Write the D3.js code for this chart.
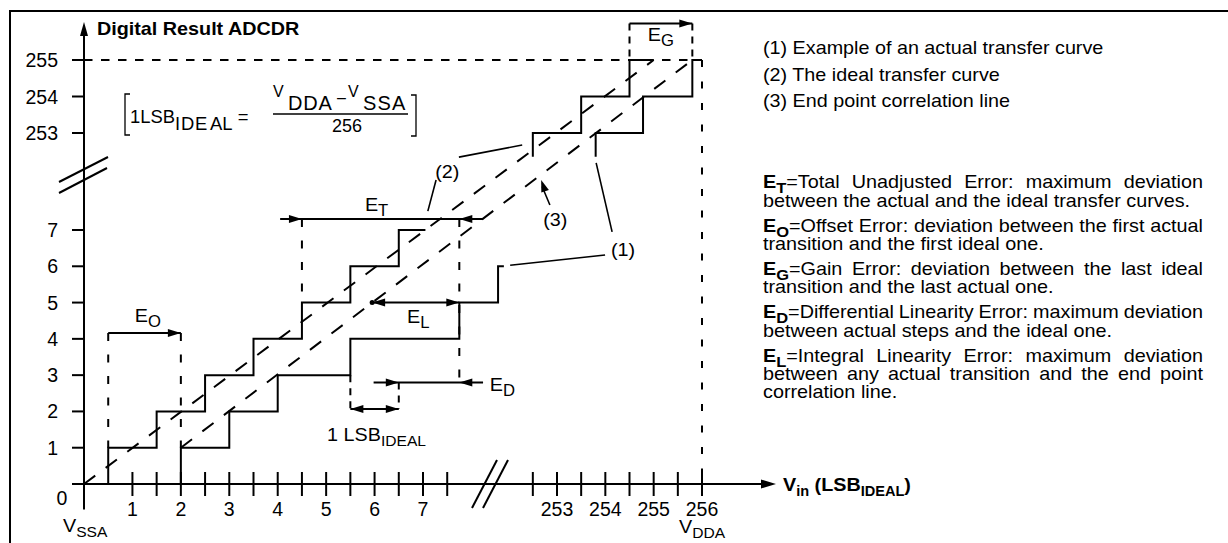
<!DOCTYPE html>
<html><head><meta charset="utf-8">
<script src="https://cdn.jsdelivr.net/npm/d3@7"></script>
<style>body{margin:0;background:#fff;} svg{display:block;} text{white-space:pre;}</style>
</head><body>
<script>
// ---------------- data ----------------
const xTickLabelsLow = [1, 2, 3, 4, 5, 6, 7];
const xTickLabelsHigh = [253, 254, 255, 256];
const xMinorLow = [1.5, 2.5, 3.5, 4.5, 5.5, 6.5, 7.5];
const xMinorHigh = [252.5, 253.5, 254.5, 255.5];
const yTickLabelsLow = [1, 2, 3, 4, 5, 6, 7];
const yTickLabelsHigh = [253, 254, 255];

// (2) ideal transfer curve, (1) actual transfer curve  [Vin (LSB), code]
const idealLow = [[0.5,0],[0.5,1],[1.5,1],[1.5,2],[2.5,2],[2.5,3],[3.5,3],[3.5,4],[4.5,4],[4.5,5],[5.5,5],[5.5,6],[6.5,6],[6.5,7],[7.05,7]];
const actualLow = [[2,0],[2,1],[3,1],[3,2],[4,2],[4,3],[5.5,3],[5.5,4],[7.75,4],[7.75,5],[8.55,5],[8.55,6],[8.67,6]];
const idealHigh = [[252.5,252.35],[252.5,253],[253.5,253],[253.5,254],[254.5,254],[254.5,255],[255,255]];
const actualHigh = [[253.8,252.35],[253.8,253],[254.78,253],[254.78,254],[255.8,254],[255.8,255],[256,255]];
// straight lines: ideal (2) from (0,0) to (255,255); end point correlation (3) from first to last actual transition
const idealLineEnds = [[0,0],[255,255]];
const endPointLineEnds = [[2,1],[255.8,255]];

// annotation values (LSB / code units)
const eO = {y: 4.16, x0: 0.5, x1: 2};
const eT = {y: 7.3, x0: 4.05, x1: 8.24, tipL: 4.5, tipR: 7.75};
const eL = {y: 5, x0: 5.95, x1: 7.75};
const eD = {y: 2.8, x0: 5.98, x1: 8.24, tipL: 6.5, tipR: 7.75};
const lsb = {y: 2.07, x0: 5.5, x1: 6.5};
const eG = {y: 256, x0: 254.5, x1: 255.8};

const legendItems = ["(1) Example of an actual transfer curve", "(2) The ideal transfer curve", "(3) End point correlation line"];
const defItems = [
  {e: "T", lines: ["=Total Unadjusted Error: maximum deviation", "between the actual and the ideal transfer curves."]},
  {e: "O", lines: ["=Offset Error: deviation between the first actual", "transition and the first ideal one."]},
  {e: "G", lines: ["=Gain Error: deviation between the last ideal", "transition and the last actual one."]},
  {e: "D", lines: ["=Differential Linearity Error: maximum deviation", "between actual steps and the ideal one."]},
  {e: "L", lines: ["=Integral Linearity Error: maximum deviation", "between any actual transition and the end point", "correlation line."]}
];

// ---------------- setup ----------------
const W = 1228, H = 543;
const FONT = "'Liberation Sans', Arial, Helvetica, sans-serif";
const FS = 19, SX = 1.04;
const svg = d3.select("body").append("svg").attr("width", W).attr("height", H);

const xLo = d3.scaleLinear().domain([0, 7]).range([84, 423]);
const xHi = d3.scaleLinear().domain([253, 256]).range([557, 702]);
const yLo = d3.scaleLinear().domain([0, 7]).range([484, 230]);
const yHi = d3.scaleLinear().domain([253, 255]).range([133, 60]);

function txt(x, y, parts, o = {}) {
  const t = svg.append("text")
    .attr("x", x).attr("y", y)
    .attr("font-family", FONT)
    .attr("font-size", o.size || FS)
    .attr("font-weight", o.weight || "normal")
    .attr("text-anchor", o.anchor || "start")
    .attr("fill", "#000");
  if (typeof parts === "string") parts = [{t: parts}];
  let cur = 0;
  parts.forEach(p => {
    const ts = t.append("tspan").text(p.t);
    if (p.x !== undefined) { ts.attr("x", p.x).attr("y", y + (p.dy || 0)); cur = p.dy || 0; }
    else {
      const shift = p.dy || 0;
      if (shift !== cur) { ts.attr("dy", shift - cur); cur = shift; }
    }
    if (p.size) ts.attr("font-size", p.size);
    if (p.weight) ts.attr("font-weight", p.weight);
    if (p.ls) ts.attr("letter-spacing", p.ls);
    if (p.dx) ts.attr("dx", p.dx);
  });
  const sx = o.sx === undefined ? SX : o.sx;
  if (sx !== 1) t.attr("transform", `translate(${x},${y}) scale(${sx},1) translate(${-x},${-y})`);
  return t;
}
function measure(str, size, weight) {
  const t = svg.append("text").attr("font-family", FONT).attr("font-size", size)
    .attr("font-weight", weight || "normal").text(str);
  const w = t.node().getComputedTextLength();
  t.remove();
  return w;
}
function seg(x1, y1, x2, y2, o = {}) {
  return svg.append("line").attr("x1", x1).attr("y1", y1).attr("x2", x2).attr("y2", y2)
    .attr("stroke", "#000").attr("stroke-width", o.w || 2)
    .attr("stroke-dasharray", o.dash || null);
}
function head(tx, ty, ang, len = 13, hw = 4) {
  const c = Math.cos(ang), s = Math.sin(ang);
  const bx = tx - c * len, by = ty - s * len;
  const p = [[tx, ty], [bx - s * hw, by + c * hw], [bx + s * hw, by - c * hw]];
  svg.append("path").attr("d", d3.line()(p) + "Z").attr("fill", "#000");
}
const R = 0, L = Math.PI, U = -Math.PI / 2;
const step = d3.line();
function curve(pts, sx, sy) {
  svg.append("path").attr("d", step(pts.map(p => [sx(p[0]), sy(p[1])])))
    .attr("fill", "none").attr("stroke", "#000").attr("stroke-width", 2);
}

// ---------------- frame ----------------
svg.append("path").attr("d", `M${W},11H10V${H}`).attr("fill", "none").attr("stroke", "#000").attr("stroke-width", 2);

// ---------------- dashed reference lines ----------------
const VD = "8,13.5";
seg(xLo(0), yHi(255), xHi(256), yHi(255), {dash: "8.5,8.5"});
seg(xHi(256), yHi(255), xHi(256), yLo(0), {dash: "7,14.5"});
seg(xHi(eG.x0), yHi(eG.y), xHi(eG.x0), yHi(255), {dash: "7,6"});
seg(xHi(eG.x1), yHi(eG.y), xHi(eG.x1), yHi(255), {dash: "7,6"});
seg(xLo(eO.x0), yLo(eO.y), xLo(eO.x0), yLo(1), {dash: VD});
seg(xLo(eO.x1), yLo(eO.y), xLo(eO.x1), yLo(1), {dash: VD});
seg(xLo(eT.tipL), yLo(eT.y), xLo(eT.tipL), yLo(5), {dash: VD});
seg(xLo(eT.tipR), yLo(eT.y), xLo(eT.tipR), yLo(eD.y), {dash: VD});
seg(xLo(lsb.x0), yLo(3), xLo(lsb.x0), yLo(lsb.y), {dash: "7,6"});
seg(xLo(eD.tipL), yLo(eD.y), xLo(eD.tipL), yLo(lsb.y), {dash: "7,6"});

// diagonal lines (2) and (3)
seg(xLo(idealLineEnds[0][0]), yLo(idealLineEnds[0][1]), xHi(idealLineEnds[1][0]), yHi(idealLineEnds[1][1]), {dash: "14,13"});
seg(xLo(endPointLineEnds[0][0]), yLo(endPointLineEnds[0][1]), xHi(endPointLineEnds[1][0]), yHi(endPointLineEnds[1][1]), {dash: "14,13"});

// ---------------- step curves ----------------
curve(idealLow, xLo, yLo);
curve(actualLow, xLo, yLo);
curve(idealHigh, xHi, yHi);
curve(actualHigh, xHi, yHi);

// ---------------- axes ----------------
seg(xLo(0), yLo(-0.7), xLo(0), 32);
head(xLo(0), 22, U, 14, 4);
seg(72, yLo(0), 766, yLo(0));
head(776, yLo(0), R, 15, 4.5);

xMinorLow.concat(xTickLabelsLow).forEach(v => seg(xLo(v), yLo(0) - 12, xLo(v), yLo(0) + 12));
xMinorHigh.concat(xTickLabelsHigh).forEach(v => seg(xHi(v), yLo(0) - 12, xHi(v), yLo(0) + 12));
yTickLabelsLow.forEach(v => seg(72, yLo(v), xLo(0), yLo(v)));
yTickLabelsHigh.forEach(v => seg(72, yHi(v), xLo(0), yHi(v)));

xTickLabelsLow.forEach(v => txt(xLo(v), 516, String(v), {anchor: "middle", size: 19.5, sx: 1}));
xTickLabelsHigh.forEach(v => txt(xHi(v), 516, String(v), {anchor: "middle", size: 19.5, sx: 1}));
yTickLabelsLow.forEach(v => txt(58, yLo(v) + 7, String(v), {anchor: "end", size: 19.5, sx: 1}));
yTickLabelsHigh.forEach(v => txt(58, yHi(v) + 7, String(v), {anchor: "end", size: 19.5, sx: 1}));
txt(62, 505, "0", {anchor: "middle", size: 19.5, sx: 1});
txt(63, 532, [{t: "V"}, {t: "SSA", size: 15, dy: 5}], {size: 19});
txt(679, 533, [{t: "V"}, {t: "DDA", size: 15, dy: 5}], {size: 19});

// axis breaks
function brk(pairs) { pairs.forEach(p => seg(p[0], p[1], p[2], p[3])); }
brk([[472, 508, 497, 460], [483, 508, 508, 460]]);
brk([[59, 182, 108, 157], [59, 193, 107, 168]]);

// axis titles
txt(97, 35, "Digital Result ADCDR", {weight: "bold", size: 19});
txt(783, 491, [{t: "V"}, {t: "in", size: 14, dy: 5}, {t: " (LSB", dy: 0}, {t: "IDEAL", size: 14, dy: 5}, {t: ")", dy: 0}], {weight: "bold", size: 19});

// ---------------- formula ----------------
svg.append("path").attr("d", "M130,94H125V135H130").attr("fill", "none").attr("stroke", "#000").attr("stroke-width", 1.3);
svg.append("path").attr("d", "M411,95H416V136H411").attr("fill", "none").attr("stroke", "#000").attr("stroke-width", 1.3);
txt(130, 123, [{t: "1LSB"}, {t: "IDE", dy: 7, ls: 0.8}, {t: "AL", dy: 7, dx: 2}, {t: " =", dy: 0}], {size: 19, sx: 0.97});
seg(273, 114, 408, 114, {w: 1.5});
txt(273, 97, "V", {size: 16, sx: 1});
txt(288, 110, "DDA", {size: 20, sx: 1}).attr("letter-spacing", 0.8);
txt(337, 103, "–", {size: 16, sx: 1});
txt(348, 97, "V", {size: 16, sx: 1});
txt(363, 110, "SSA", {size: 20, sx: 1}).attr("letter-spacing", 1.2);
txt(347, 132, "256", {size: 18, sx: 1, anchor: "middle"});

// ---------------- error annotations ----------------
seg(xLo(eO.x0), yLo(eO.y), xLo(eO.x1), yLo(eO.y));
head(xLo(eO.x1), yLo(eO.y), R);
txt(xLo(1.05), yLo(4.46), [{t: "E"}, {t: "O", size: 16, dy: 5}]);
seg(xLo(eT.x0), yLo(eT.y), xLo(eT.x1), yLo(eT.y));
head(xLo(eT.tipL), yLo(eT.y), R);
head(xLo(eT.tipR), yLo(eT.y), L);
txt(xLo(5.80), yLo(7.52), [{t: "E"}, {t: "T", size: 16, dy: 5}]);
seg(xLo(eL.x0), yLo(eL.y), xLo(eL.x1), yLo(eL.y));
head(xLo(eL.x0), yLo(eL.y), L);
head(xLo(eL.x1), yLo(eL.y), R);
svg.append("circle").attr("cx", xLo(eL.x0)).attr("cy", yLo(eL.y)).attr("r", 2.5).attr("fill", "#000");
txt(xLo(6.67), yLo(4.44), [{t: "E"}, {t: "L", size: 16, dy: 5}]);
seg(xLo(eD.x0), yLo(eD.y), xLo(eD.x1), yLo(eD.y));
head(xLo(eD.tipL), yLo(eD.y), R);
head(xLo(eD.tipR), yLo(eD.y), L);
txt(xLo(8.38), yLo(2.56), [{t: "E"}, {t: "D", size: 16, dy: 5}]);
seg(xLo(lsb.x0), yLo(lsb.y), xLo(lsb.x1), yLo(lsb.y));
head(xLo(lsb.x0), yLo(lsb.y), L);
head(xLo(lsb.x1), yLo(lsb.y), R);
txt(xLo(5.02), yLo(1.18), [{t: "1 LSB"}, {t: "IDEAL", size: 15, dy: 5}]);
seg(xHi(eG.x0), yHi(eG.y), xHi(eG.x1), yHi(eG.y));
head(xHi(eG.x1), yHi(eG.y), R);
txt(xHi(254.88), yHi(255.52), [{t: "E"}, {t: "G", size: 16, dy: 5}]);

// ---------------- curve labels & leaders ----------------
txt(xLo(7.5), yLo(8.42), "(2)", {anchor: "middle"});
seg(xLo(7.27), yLo(8.38), xLo(7.10), yLo(7.52), {w: 1.6});
seg(xHi(250.97), yHi(252.34), xHi(252.28), yHi(252.67), {w: 1.6});
txt(xLo(9.73), yLo(7.11), "(3)", {anchor: "middle"});
seg(xLo(9.62), yLo(7.69), xLo(9.46), yLo(8.2), {w: 1.6});
head(xLo(9.44), yLo(8.38), Math.atan2(yLo(8.38) - yLo(7.69), xLo(9.44) - xLo(9.62)), 12, 4);
txt(xLo(11.13), yLo(6.28), "(1)", {anchor: "middle"});
seg(xHi(254.14), yHi(250.29), xHi(253.81), yHi(252.18), {w: 1.6});
seg(xLo(10.76), yLo(6.31), xLo(8.80), yLo(6.03), {w: 1.6});

// ---------------- legend text ----------------
legendItems.forEach((s, i) => txt(763, 54 + i * 26.7, s));

// ---------------- definitions (justified by explicit word placement) ----------------
const defLeft = 763, defRight = 1203, DFS = 18, DSX = 1.1, SUBFS = 15;
// bold glyph advances (em/1000, Arial/Liberation Sans Bold) for the E-symbol prefix
const boldAdv = {E: 667, T: 611, O: 778, G: 778, D: 722, L: 611};
defItems.forEach((d, i) => {
  d.lines.forEach((ln, j) => {
    const y = 188.3 + i * 43.35 + j * 18.4;
    const justify = j < d.lines.length - 1;
    let x0 = defLeft;
    if (j === 0) {
      txt(defLeft, y, [{t: "E", weight: "bold"}, {t: d.e, weight: "bold", size: SUBFS, dy: 5}], {size: DFS, sx: DSX});
      x0 = defLeft + (boldAdv.E * DFS + boldAdv[d.e] * SUBFS) / 1000 * DSX;
    }
    const words = ln.split(" ");
    const widths = words.map(w => measure(w, DFS));
    const target = (defRight - x0) / DSX;
    const gap = justify ? (target - d3.sum(widths)) / (words.length - 1) : measure("a b", DFS) - measure("ab", DFS);
    const parts = [];
    let cx = x0;
    words.forEach((w, k) => {
      parts.push(k === 0 ? {t: w} : {t: w, x: cx});
      cx += widths[k] + gap;
    });
    txt(x0, y, parts, {size: DFS, sx: DSX});
  });
});
</script>
</body></html>
